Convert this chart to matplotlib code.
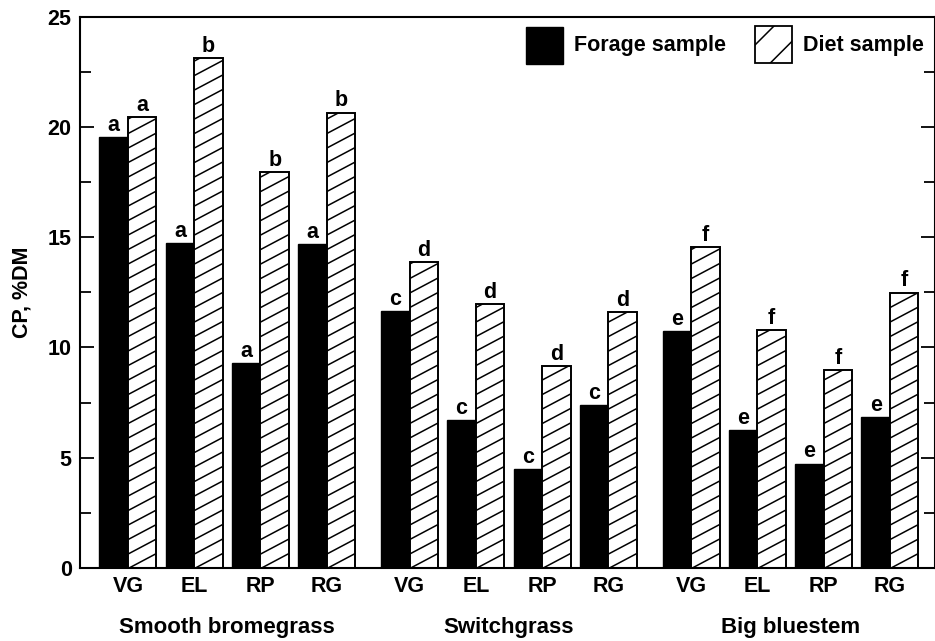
import matplotlib
matplotlib.use("Agg")
import matplotlib.pyplot as plt
from matplotlib.collections import LineCollection
from matplotlib.patches import Rectangle
from matplotlib.transforms import IdentityTransform, blended_transform_factory
from matplotlib.ticker import MultipleLocator

plt.rcParams['font.family'] = ['Liberation Sans', 'DejaVu Sans']
plt.rcParams['font.weight'] = 'bold'

# data
groups = ['Smooth bromegrass', 'Switchgrass', 'Big bluestem']
stages = ['VG', 'EL', 'RP', 'RG']
forage = [[19.55, 14.72, 9.29, 14.70],
          [11.65, 6.72, 4.50, 7.37],
          [10.74, 6.24, 4.73, 6.84]]
diet = [[20.43, 23.13, 17.96, 20.65],
        [13.87, 11.97, 9.16, 11.59],
        [14.56, 10.79, 8.97, 12.49]]
forage_letters = [['a', 'a', 'a', 'a'], ['c', 'c', 'c', 'c'], ['e', 'e', 'e', 'e']]
diet_letters = [['a', 'b', 'b', 'b'], ['d', 'd', 'd', 'd'], ['f', 'f', 'f', 'f']]

W, H = 935, 641
fig = plt.figure(figsize=(W / 100, H / 100), dpi=100)
ax = fig.add_axes([80 / W, (H - 568) / H, 855 / W, (568 - 16.7) / H])

bw = 0.43
gap = 4.25
ax.set_xlim(-0.724, 12.18)
ax.set_ylim(0, 25)

positions = []
labels = []
diet_bars = []
for g in range(len(groups)):
    for i in range(len(stages)):
        p = g * gap + i
        positions.append(p)
        labels.append(stages[i])
        ax.bar(p - bw / 2, forage[g][i], width=bw, color='black',
               edgecolor='black', linewidth=1.0)
        db = ax.bar(p + bw / 2, diet[g][i], width=bw, color='white',
                    edgecolor='black', linewidth=1.4, zorder=3)[0]
        diet_bars.append(db)
        ax.annotate(forage_letters[g][i], (p - bw / 2, forage[g][i]),
                    xytext=(0, 4.5), textcoords='offset points',
                    ha='center', va='baseline', fontsize=15.5, fontweight='bold')
        ax.annotate(diet_letters[g][i], (p + bw / 2, diet[g][i]),
                    xytext=(0, 4.5), textcoords='offset points',
                    ha='center', va='baseline', fontsize=15.5, fontweight='bold')


# shallow diagonal hatch drawn in pixel space, clipped to each bar
def hatch_bar(rect, spacing=14.5, slope=0.53, lw=1.1):
    (x0, y0), (x1, y1) = ax.transData.transform(
        [(rect.get_x(), rect.get_y()),
         (rect.get_x() + rect.get_width(), rect.get_y() + rect.get_height())])
    w = x1 - x0
    segs = []
    k = y0 - slope * w
    while k < y1:
        segs.append([(x0, k), (x1, k + slope * w)])
        k += spacing
    lc = LineCollection(segs, colors='black', linewidths=lw,
                        transform=IdentityTransform(), zorder=2.5)
    ax.add_collection(lc, autolim=False)
    lc.set_clip_path(rect)


for db in diet_bars:
    db.set_facecolor('none')
    hatch_bar(db)
    bg = Rectangle((db.get_x(), 0), db.get_width(), db.get_height(),
                   facecolor='white', edgecolor='none', zorder=2)
    ax.add_patch(bg)

ax.set_xticks(positions)
ax.set_xticklabels(labels, fontsize=15.5, fontweight='bold')
ax.tick_params(axis='x', length=0, pad=6)
ax.yaxis.set_major_locator(MultipleLocator(5))
ax.yaxis.set_minor_locator(MultipleLocator(2.5))
ax.tick_params(axis='y', which='both', direction='in', left=True, right=True,
               labelsize=15.5, pad=6, width=1.3)
ax.tick_params(axis='y', which='major', length=10)
ax.tick_params(axis='y', which='minor', length=8)
for lab in ax.get_yticklabels():
    lab.set_fontweight('bold')
for s in ax.spines.values():
    s.set_linewidth(1.5)

ax.set_ylabel('CP, %DM', fontsize=15.5, fontweight='bold')
ax.yaxis.set_label_coords(-(80 - 33) / 855, 0.5)

# group names under the stage labels
trans = blended_transform_factory(ax.transData, fig.transFigure)
for g, name in enumerate(groups):
    ax.text(g * gap + 1.5, 1 - 628 / H, name, transform=trans, ha='center',
            va='center', fontsize=16, fontweight='bold')


# legend drawn by hand in figure pixels
def fx(x):
    return x / W


def fy(y):
    return 1 - y / H


fig.add_artist(Rectangle((fx(526), fy(64)), 37 / W, 37 / H, facecolor='black',
                         edgecolor='black', linewidth=1.0, transform=fig.transFigure))
fig.text(fx(574), fy(45), 'Forage sample', ha='left', va='center', fontsize=15.5,
         fontweight='bold')
plt.rcParams['hatch.linewidth'] = 1.1
fig.add_artist(Rectangle((fx(755), fy(63)), 37 / W, 37 / H, facecolor='white',
                         edgecolor='black', hatch='/', linewidth=1.3,
                         transform=fig.transFigure))
fig.text(fx(803), fy(45), 'Diet sample', ha='left', va='center', fontsize=15.5,
         fontweight='bold')

fig.savefig('out.png', dpi=100)
